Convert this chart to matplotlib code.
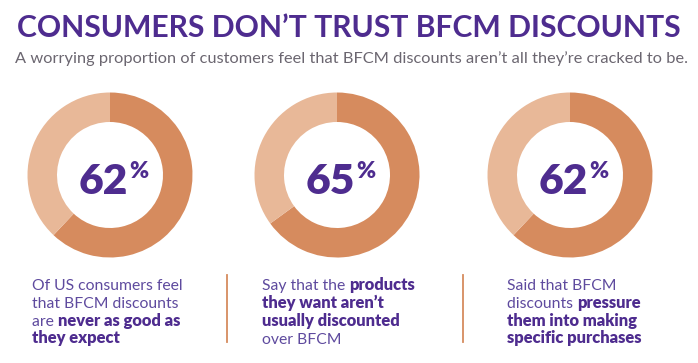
import matplotlib.pyplot as plt

# data
values = [62, 65, 62]
centers_x = [110, 337, 570]
title = "CONSUMERS DON\u2019T TRUST BFCM DISCOUNTS"
subtitle = "A worrying proportion of customers feel that BFCM discounts aren\u2019t all they\u2019re cracked to be."
captions = [
    [[("Of US consumers feel", False)],
     [("that BFCM discounts", False)],
     [("are ", False), ("never as good as", True)],
     [("they expect", True)]],
    [[("Say that the ", False), ("products", True)],
     [("they want aren\u2019t", True)],
     [("usually discounted", True)],
     [("over BFCM", False)]],
    [[("Said that BFCM", False)],
     [("discounts ", False), ("pressure", True)],
     [("them into making", True)],
     [("specific purchases", True)]],
]
caption_x = [32, 262, 507]
dividers_x = [227, 463]

W, H = 698, 363
dark = "#D68B5E"
light = "#E8B898"
purple = "#4E2C8F"
purple_light = "#5E4A9E"
grey = "#6B6670"

plt.rcParams['font.family'] = ['Lato', 'DejaVu Sans']

fig = plt.figure(figsize=(W / 100, H / 100), dpi=100)
ax = fig.add_axes([0, 0, 1, 1])


def py(y):
    return H - y


for v, cx in zip(values, centers_x):
    ax.pie([v, 100 - v], colors=[dark, light], startangle=90, counterclock=False,
           center=(cx, py(175)), radius=82.5, frame=True,
           wedgeprops=dict(width=29.5, edgecolor='none'))
    ax.text(cx + 18, py(194.5), str(v), ha='right', va='baseline', fontsize=30.5,
            fontweight='heavy', color=purple)
    ax.text(cx + 19, py(161), "%", ha='left', va='top', fontsize=16.5,
            fontweight='heavy', color=purple)

ax.set_xlim(0, W)
ax.set_ylim(0, H)
ax.set_aspect('auto')
ax.axis('off')

renderer = fig.canvas.get_renderer()

t = ax.text(17, py(37), title, ha='left', va='baseline', fontsize=20.5,
            fontweight='bold', color=purple)
w = t.get_window_extent(renderer).width
t.set_fontsize(20.5 * 665 / w)

s = ax.text(15, py(63), subtitle, ha='left', va='baseline', fontsize=13,
            fontweight='normal', color=grey)
w = s.get_window_extent(renderer).width
s.set_fontsize(13 * 667 / w)

line_y = [290, 308, 326, 343.5]
for cap, x0 in zip(captions, caption_x):
    for line, ly in zip(cap, line_y):
        x = x0
        for seg, bold in line:
            tt = ax.text(x, py(ly), seg, ha='left', va='baseline',
                         fontsize=11.9 if bold else 11.3,
                         fontweight='heavy' if bold else 'normal',
                         color=purple if bold else purple_light)
            x += tt.get_window_extent(renderer).width

for dx in dividers_x:
    ax.plot([dx, dx], [py(275), py(342)], color=dark, lw=1.3)

fig.savefig("out.png", dpi=100)
